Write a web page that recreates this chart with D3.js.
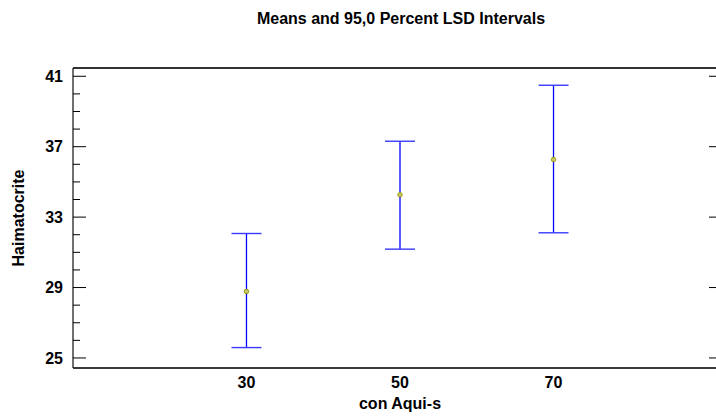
<!DOCTYPE html>
<html>
<head>
<meta charset="utf-8">
<script src="https://cdn.jsdelivr.net/npm/d3@7"></script>
<style>
  body { margin: 0; background: #fff; }
  text { font-family: "Liberation Sans", Arial, sans-serif; font-weight: bold; fill: #000; }
</style>
</head>
<body>
<div id="chart"></div>
<script>
// data
var levels = ["30", "50", "70"];
var means = [28.78, 34.27, 36.27];
var lower = [25.59, 31.18, 32.11];
var upper = [32.07, 37.31, 40.49];
var yTicks = [25, 29, 33, 37, 41];

var W = 716, H = 416;
var plotL = 73, plotT = 68, plotR = 727, plotB = 368;

var svg = d3.select("#chart").append("svg")
  .attr("width", W).attr("height", H);

var x = d3.scalePoint()
  .domain(levels)
  .range([plotL, plotR])
  .padding(1.13);

var y = d3.scaleLinear()
  .domain([24.43, 41.47])
  .range([plotB, plotT]);

// title
svg.append("text")
  .attr("x", 401).attr("y", 24)
  .attr("text-anchor", "middle")
  .style("font-size", "16px")
  .text("Means and 95,0 Percent LSD Intervals");

// frame
svg.append("line").attr("x1", plotL).attr("x2", W).attr("y1", plotT).attr("y2", plotT)
  .style("stroke", "#333").style("stroke-width", 2);
svg.append("line").attr("x1", plotL).attr("x2", W).attr("y1", plotB).attr("y2", plotB)
  .style("stroke", "#3a3a3a").style("stroke-width", 2.2);
svg.append("line").attr("x1", plotL).attr("x2", plotL).attr("y1", plotT).attr("y2", plotB)
  .style("stroke", "#222").style("stroke-width", 1.3);

// left axis ticks (major + minor)
var minor = d3.range(25, 41.01, 1);
svg.append("g").selectAll("line")
  .data(minor)
  .enter().append("line")
  .attr("x1", plotL)
  .attr("x2", d => yTicks.includes(d) ? plotL + 13 : plotL + 7)
  .attr("y1", d => y(d)).attr("y2", d => y(d))
  .style("stroke", "#000").style("stroke-width", 1);

// right side ticks
svg.append("g").selectAll("line")
  .data(yTicks)
  .enter().append("line")
  .attr("x1", 709).attr("x2", 716)
  .attr("y1", d => y(d)).attr("y2", d => y(d))
  .style("stroke", "#000").style("stroke-width", 1);

svg.append("g").selectAll("text")
  .data(yTicks)
  .enter().append("text")
  .attr("x", 63).attr("y", d => y(d))
  .attr("dy", "0.36em")
  .attr("text-anchor", "end")
  .style("font-size", "16px")
  .text(d => d);

svg.append("text")
  .attr("transform", "translate(24," + ((plotT + plotB) / 2) + ") rotate(-90)")
  .attr("text-anchor", "middle")
  .style("font-size", "16px")
  .text("Haimatocrite");

// x labels
svg.append("g").selectAll("text")
  .data(levels)
  .enter().append("text")
  .attr("x", d => x(d)).attr("y", 388)
  .attr("text-anchor", "middle")
  .style("font-size", "16px")
  .text(d => d);

svg.append("text")
  .attr("x", 400).attr("y", 409)
  .attr("text-anchor", "middle")
  .style("font-size", "16px")
  .text("con Aqui-s");

// intervals
var bars = svg.append("g").selectAll("g")
  .data(levels)
  .enter().append("g");

bars.append("line")
  .attr("x1", d => x(d)).attr("x2", d => x(d))
  .attr("y1", (d, i) => y(upper[i])).attr("y2", (d, i) => y(lower[i]))
  .style("stroke", "#0000ff").style("stroke-width", 1.3);

bars.append("line")
  .attr("x1", d => x(d) - 15).attr("x2", d => x(d) + 15)
  .attr("y1", (d, i) => y(upper[i])).attr("y2", (d, i) => y(upper[i]))
  .style("stroke", "#3a3aff").style("stroke-width", 1.4);

bars.append("line")
  .attr("x1", d => x(d) - 15).attr("x2", d => x(d) + 15)
  .attr("y1", (d, i) => y(lower[i])).attr("y2", (d, i) => y(lower[i]))
  .style("stroke", "#3a3aff").style("stroke-width", 1.4);

bars.append("circle")
  .attr("cx", d => x(d))
  .attr("cy", (d, i) => y(means[i]))
  .attr("r", 2.2)
  .style("fill", "#c8c870")
  .style("stroke", "#9a9a00")
  .style("stroke-width", 1);
</script>
</body>
</html>
